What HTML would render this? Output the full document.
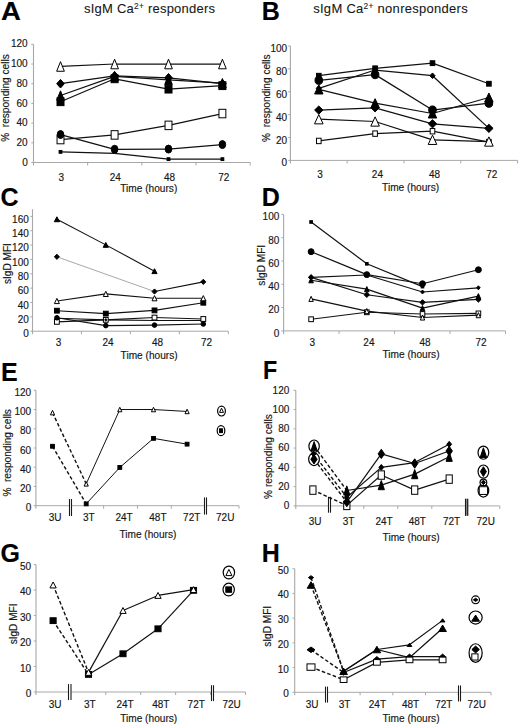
<!DOCTYPE html>
<html><head><meta charset="utf-8"><style>
html,body{margin:0;padding:0;background:#fff;}
svg{display:block;font-family:"Liberation Sans", sans-serif;}
text{stroke:#161616;stroke-width:0.15px;}
</style></head><body>
<svg width="520" height="727" viewBox="0 0 520 727">
<rect width="520" height="727" fill="#fff"/>
<line x1="33.5" y1="44.3" x2="33.5" y2="165.5" stroke="#a8a8a8" stroke-width="1.1"/>
<line x1="31.3" y1="162.5" x2="250.2" y2="162.5" stroke="#a8a8a8" stroke-width="1.0"/>
<text x="27.7" y="165.6" font-size="10" text-anchor="end" fill="#161616">0</text>
<line x1="31.3" y1="142.8" x2="33.5" y2="142.8" stroke="#a8a8a8" stroke-width="1"/>
<text x="27.7" y="145.9" font-size="10" text-anchor="end" fill="#161616">20</text>
<line x1="31.3" y1="123.1" x2="33.5" y2="123.1" stroke="#a8a8a8" stroke-width="1"/>
<text x="27.7" y="126.2" font-size="10" text-anchor="end" fill="#161616">40</text>
<line x1="31.3" y1="103.4" x2="33.5" y2="103.4" stroke="#a8a8a8" stroke-width="1"/>
<text x="27.7" y="106.5" font-size="10" text-anchor="end" fill="#161616">60</text>
<line x1="31.3" y1="83.7" x2="33.5" y2="83.7" stroke="#a8a8a8" stroke-width="1"/>
<text x="27.7" y="86.8" font-size="10" text-anchor="end" fill="#161616">80</text>
<line x1="31.3" y1="64" x2="33.5" y2="64" stroke="#a8a8a8" stroke-width="1"/>
<text x="27.7" y="67.1" font-size="10" text-anchor="end" fill="#161616">100</text>
<line x1="31.3" y1="44.3" x2="33.5" y2="44.3" stroke="#a8a8a8" stroke-width="1"/>
<text x="27.7" y="47.4" font-size="10" text-anchor="end" fill="#161616">120</text>
<line x1="87.67" y1="162.5" x2="87.67" y2="165.5" stroke="#a8a8a8" stroke-width="1"/>
<line x1="141.85" y1="162.5" x2="141.85" y2="165.5" stroke="#a8a8a8" stroke-width="1"/>
<line x1="196.02" y1="162.5" x2="196.02" y2="165.5" stroke="#a8a8a8" stroke-width="1"/>
<line x1="250.2" y1="162.5" x2="250.2" y2="165.5" stroke="#a8a8a8" stroke-width="1"/>
<text x="61.3" y="181" font-size="10" text-anchor="middle" fill="#161616">3</text>
<text x="115.2" y="181" font-size="10" text-anchor="middle" fill="#161616">24</text>
<text x="169.6" y="181" font-size="10" text-anchor="middle" fill="#161616">48</text>
<text x="223.7" y="181" font-size="10" text-anchor="middle" fill="#161616">72</text>
<text x="120.3" y="191.7" font-size="10.15" text-anchor="start" fill="#161616">Time (hours)</text>
<text x="8.9" y="98.05" font-size="10.1" text-anchor="middle" fill="#161616" transform="rotate(-90 8.9 98.05)">%&#160; responding cells</text>
<line x1="60.5" y1="151.86" x2="114.6" y2="153.34" stroke="#111" stroke-width="1.25"/>
<line x1="114.6" y1="153.34" x2="168.5" y2="159.15" stroke="#111" stroke-width="1.25"/>
<line x1="168.5" y1="159.15" x2="222.4" y2="159.15" stroke="#111" stroke-width="1.25"/>
<line x1="60.5" y1="139.55" x2="114.6" y2="134.92" stroke="#111" stroke-width="1.25"/>
<line x1="114.6" y1="134.92" x2="168.5" y2="125.37" stroke="#111" stroke-width="1.25"/>
<line x1="168.5" y1="125.37" x2="222.4" y2="113.55" stroke="#111" stroke-width="1.25"/>
<line x1="60.5" y1="134.53" x2="114.6" y2="149.3" stroke="#111" stroke-width="1.25"/>
<line x1="114.6" y1="149.3" x2="168.5" y2="149.1" stroke="#111" stroke-width="1.25"/>
<line x1="168.5" y1="149.1" x2="222.4" y2="144.57" stroke="#111" stroke-width="1.25"/>
<line x1="60.5" y1="101.73" x2="114.6" y2="78.78" stroke="#111" stroke-width="1.25"/>
<line x1="114.6" y1="78.78" x2="168.5" y2="89.12" stroke="#111" stroke-width="1.25"/>
<line x1="168.5" y1="89.12" x2="222.4" y2="85.67" stroke="#111" stroke-width="1.25"/>
<line x1="60.5" y1="95.52" x2="114.6" y2="76.31" stroke="#111" stroke-width="1.25"/>
<line x1="114.6" y1="76.31" x2="168.5" y2="79.76" stroke="#111" stroke-width="1.25"/>
<line x1="168.5" y1="79.76" x2="222.4" y2="83.21" stroke="#111" stroke-width="1.25"/>
<line x1="60.5" y1="83.7" x2="114.6" y2="75.82" stroke="#111" stroke-width="1.25"/>
<line x1="114.6" y1="75.82" x2="168.5" y2="77.79" stroke="#111" stroke-width="1.25"/>
<line x1="168.5" y1="77.79" x2="222.4" y2="83.7" stroke="#111" stroke-width="1.25"/>
<line x1="60.5" y1="66.46" x2="114.6" y2="64" stroke="#111" stroke-width="1.25"/>
<line x1="114.6" y1="64" x2="168.5" y2="64" stroke="#111" stroke-width="1.25"/>
<line x1="168.5" y1="64" x2="222.4" y2="64" stroke="#111" stroke-width="1.25"/>
<rect x="59.1" y="150.46" width="2.8" height="2.8" fill="#000" stroke="#000" stroke-width="1.0"/>
<rect x="167.1" y="157.75" width="2.8" height="2.8" fill="#000" stroke="#000" stroke-width="1.0"/>
<rect x="221" y="157.75" width="2.8" height="2.8" fill="#000" stroke="#000" stroke-width="1.0"/>
<rect x="57.05" y="135.3" width="6.9" height="8.5" fill="#fff" stroke="#000" stroke-width="1.0"/>
<rect x="111.15" y="130.67" width="6.9" height="8.5" fill="#fff" stroke="#000" stroke-width="1.0"/>
<rect x="165.05" y="121.12" width="6.9" height="8.5" fill="#fff" stroke="#000" stroke-width="1.0"/>
<rect x="218.95" y="109.3" width="6.9" height="8.5" fill="#fff" stroke="#000" stroke-width="1.0"/>
<ellipse cx="60.5" cy="134.53" rx="3.3" ry="4" fill="#000" stroke="#000" stroke-width="1.0"/>
<ellipse cx="114.6" cy="149.3" rx="3.3" ry="4" fill="#000" stroke="#000" stroke-width="1.0"/>
<ellipse cx="168.5" cy="149.1" rx="3.3" ry="4" fill="#000" stroke="#000" stroke-width="1.0"/>
<ellipse cx="222.4" cy="144.57" rx="3.3" ry="4" fill="#000" stroke="#000" stroke-width="1.0"/>
<rect x="57" y="97.83" width="7" height="7.8" fill="#000" stroke="#000" stroke-width="1.0"/>
<rect x="111.1" y="74.88" width="7" height="7.8" fill="#000" stroke="#000" stroke-width="1.0"/>
<rect x="165" y="85.22" width="7" height="7.8" fill="#000" stroke="#000" stroke-width="1.0"/>
<rect x="218.9" y="81.77" width="7" height="7.8" fill="#000" stroke="#000" stroke-width="1.0"/>
<polygon points="60.5,90.82 64.3,100.22 56.7,100.22" fill="#000" stroke="#000" stroke-width="1.0"/>
<polygon points="114.6,71.61 118.4,81.01 110.8,81.01" fill="#000" stroke="#000" stroke-width="1.0"/>
<polygon points="168.5,75.06 172.3,84.46 164.7,84.46" fill="#000" stroke="#000" stroke-width="1.0"/>
<polygon points="222.4,78.51 226.2,87.91 218.6,87.91" fill="#000" stroke="#000" stroke-width="1.0"/>
<polygon points="60.5,79.4 64.3,83.7 60.5,88 56.7,83.7" fill="#000" stroke="#000" stroke-width="1.0"/>
<polygon points="114.6,71.52 118.4,75.82 114.6,80.12 110.8,75.82" fill="#000" stroke="#000" stroke-width="1.0"/>
<polygon points="168.5,73.49 172.3,77.79 168.5,82.09 164.7,77.79" fill="#000" stroke="#000" stroke-width="1.0"/>
<polygon points="222.4,79.4 226.2,83.7 222.4,88 218.6,83.7" fill="#000" stroke="#000" stroke-width="1.0"/>
<polygon points="60.5,61.66 64.35,71.26 56.65,71.26" fill="#fff" stroke="#000" stroke-width="1.0"/>
<polygon points="114.6,59.2 118.45,68.8 110.75,68.8" fill="#fff" stroke="#000" stroke-width="1.0"/>
<polygon points="168.5,59.2 172.35,68.8 164.65,68.8" fill="#fff" stroke="#000" stroke-width="1.0"/>
<polygon points="222.4,59.2 226.25,68.8 218.55,68.8" fill="#fff" stroke="#000" stroke-width="1.0"/>
<line x1="290.4" y1="46" x2="290.4" y2="163.4" stroke="#a8a8a8" stroke-width="1.1"/>
<line x1="288.2" y1="160.4" x2="517.6" y2="160.4" stroke="#a8a8a8" stroke-width="1.0"/>
<text x="287.1" y="166.4" font-size="10" text-anchor="end" fill="#161616">0</text>
<line x1="288.2" y1="137.52" x2="290.4" y2="137.52" stroke="#a8a8a8" stroke-width="1"/>
<text x="287.1" y="143.52" font-size="10" text-anchor="end" fill="#161616">20</text>
<line x1="288.2" y1="114.64" x2="290.4" y2="114.64" stroke="#a8a8a8" stroke-width="1"/>
<text x="287.1" y="120.64" font-size="10" text-anchor="end" fill="#161616">40</text>
<line x1="288.2" y1="91.76" x2="290.4" y2="91.76" stroke="#a8a8a8" stroke-width="1"/>
<text x="287.1" y="97.76" font-size="10" text-anchor="end" fill="#161616">60</text>
<line x1="288.2" y1="68.88" x2="290.4" y2="68.88" stroke="#a8a8a8" stroke-width="1"/>
<text x="287.1" y="74.88" font-size="10" text-anchor="end" fill="#161616">80</text>
<line x1="288.2" y1="46" x2="290.4" y2="46" stroke="#a8a8a8" stroke-width="1"/>
<text x="287.1" y="52" font-size="10" text-anchor="end" fill="#161616">100</text>
<line x1="347.12" y1="160.4" x2="347.12" y2="163.4" stroke="#a8a8a8" stroke-width="1"/>
<line x1="403.95" y1="160.4" x2="403.95" y2="163.4" stroke="#a8a8a8" stroke-width="1"/>
<line x1="460.78" y1="160.4" x2="460.78" y2="163.4" stroke="#a8a8a8" stroke-width="1"/>
<line x1="517.6" y1="160.4" x2="517.6" y2="163.4" stroke="#a8a8a8" stroke-width="1"/>
<text x="320.1" y="177.6" font-size="10" text-anchor="middle" fill="#161616">3</text>
<text x="377.4" y="177.6" font-size="10" text-anchor="middle" fill="#161616">24</text>
<text x="434.6" y="177.6" font-size="10" text-anchor="middle" fill="#161616">48</text>
<text x="491.7" y="177.6" font-size="10" text-anchor="middle" fill="#161616">72</text>
<text x="382.1" y="191" font-size="10.15" text-anchor="start" fill="#161616">Time (hours)</text>
<text x="270.2" y="98.15" font-size="10.1" text-anchor="middle" fill="#161616" transform="rotate(-90 270.2 98.15)">%&#160; responding cells</text>
<line x1="318.8" y1="140.95" x2="375.1" y2="133.63" stroke="#111" stroke-width="1.25"/>
<line x1="375.1" y1="133.63" x2="432.5" y2="131.23" stroke="#111" stroke-width="1.25"/>
<line x1="432.5" y1="131.23" x2="488.9" y2="142.1" stroke="#111" stroke-width="1.25"/>
<line x1="318.8" y1="119.22" x2="375.1" y2="121.5" stroke="#111" stroke-width="1.25"/>
<line x1="375.1" y1="121.5" x2="432.5" y2="139.81" stroke="#111" stroke-width="1.25"/>
<line x1="432.5" y1="139.81" x2="488.9" y2="141.52" stroke="#111" stroke-width="1.25"/>
<line x1="318.8" y1="110.06" x2="375.1" y2="107.78" stroke="#111" stroke-width="1.25"/>
<line x1="375.1" y1="107.78" x2="432.5" y2="123.79" stroke="#111" stroke-width="1.25"/>
<line x1="432.5" y1="123.79" x2="488.9" y2="128.37" stroke="#111" stroke-width="1.25"/>
<line x1="318.8" y1="89.47" x2="375.1" y2="103.2" stroke="#111" stroke-width="1.25"/>
<line x1="375.1" y1="103.2" x2="432.5" y2="113.5" stroke="#111" stroke-width="1.25"/>
<line x1="432.5" y1="113.5" x2="488.9" y2="97.48" stroke="#111" stroke-width="1.25"/>
<line x1="318.8" y1="80.32" x2="375.1" y2="74.6" stroke="#111" stroke-width="1.25"/>
<line x1="375.1" y1="74.6" x2="432.5" y2="110.06" stroke="#111" stroke-width="1.25"/>
<line x1="432.5" y1="110.06" x2="488.9" y2="103.2" stroke="#111" stroke-width="1.25"/>
<line x1="318.8" y1="88.33" x2="375.1" y2="70.02" stroke="#111" stroke-width="1.25"/>
<line x1="375.1" y1="70.02" x2="432.5" y2="75.74" stroke="#111" stroke-width="1.25"/>
<line x1="432.5" y1="75.74" x2="488.9" y2="128.37" stroke="#111" stroke-width="1.25"/>
<line x1="318.8" y1="75.74" x2="375.1" y2="68.31" stroke="#111" stroke-width="1.25"/>
<line x1="375.1" y1="68.31" x2="432.5" y2="63.16" stroke="#111" stroke-width="1.25"/>
<line x1="432.5" y1="63.16" x2="488.9" y2="83.75" stroke="#111" stroke-width="1.25"/>
<rect x="316.5" y="138.25" width="4.6" height="5.4" fill="#fff" stroke="#000" stroke-width="1.0"/>
<rect x="372.8" y="130.93" width="4.6" height="5.4" fill="#fff" stroke="#000" stroke-width="1.0"/>
<rect x="430.2" y="128.53" width="4.6" height="5.4" fill="#fff" stroke="#000" stroke-width="1.0"/>
<rect x="486.6" y="139.4" width="4.6" height="5.4" fill="#fff" stroke="#000" stroke-width="1.0"/>
<polygon points="318.8,114.57 323.1,123.87 314.5,123.87" fill="#fff" stroke="#000" stroke-width="1.0"/>
<polygon points="375.1,116.85 379.4,126.15 370.8,126.15" fill="#fff" stroke="#000" stroke-width="1.0"/>
<polygon points="432.5,135.16 436.8,144.46 428.2,144.46" fill="#fff" stroke="#000" stroke-width="1.0"/>
<polygon points="488.9,136.87 493.2,146.17 484.6,146.17" fill="#fff" stroke="#000" stroke-width="1.0"/>
<polygon points="318.8,105.96 323,110.06 318.8,114.16 314.6,110.06" fill="#000" stroke="#000" stroke-width="1.0"/>
<polygon points="375.1,103.68 379.3,107.78 375.1,111.88 370.9,107.78" fill="#000" stroke="#000" stroke-width="1.0"/>
<polygon points="432.5,119.69 436.7,123.79 432.5,127.89 428.3,123.79" fill="#000" stroke="#000" stroke-width="1.0"/>
<polygon points="488.9,124.27 493.1,128.37 488.9,132.47 484.7,128.37" fill="#000" stroke="#000" stroke-width="1.0"/>
<polygon points="318.8,84.97 323,93.97 314.6,93.97" fill="#000" stroke="#000" stroke-width="1.0"/>
<polygon points="375.1,98.7 379.3,107.7 370.9,107.7" fill="#000" stroke="#000" stroke-width="1.0"/>
<polygon points="432.5,109 436.7,118 428.3,118" fill="#000" stroke="#000" stroke-width="1.0"/>
<polygon points="488.9,92.98 493.1,101.98 484.7,101.98" fill="#000" stroke="#000" stroke-width="1.0"/>
<ellipse cx="318.8" cy="80.32" rx="3.8" ry="4.1" fill="#000" stroke="#000" stroke-width="1.0"/>
<ellipse cx="375.1" cy="74.6" rx="3.8" ry="4.1" fill="#000" stroke="#000" stroke-width="1.0"/>
<ellipse cx="432.5" cy="110.06" rx="3.8" ry="4.1" fill="#000" stroke="#000" stroke-width="1.0"/>
<ellipse cx="488.9" cy="103.2" rx="3.8" ry="4.1" fill="#000" stroke="#000" stroke-width="1.0"/>
<polygon points="318.8,85.53 321.4,88.33 318.8,91.13 316.2,88.33" fill="#000" stroke="#000" stroke-width="1.0"/>
<polygon points="375.1,67.22 377.7,70.02 375.1,72.82 372.5,70.02" fill="#000" stroke="#000" stroke-width="1.0"/>
<polygon points="432.5,72.94 435.1,75.74 432.5,78.54 429.9,75.74" fill="#000" stroke="#000" stroke-width="1.0"/>
<polygon points="488.9,125.57 491.5,128.37 488.9,131.17 486.3,128.37" fill="#000" stroke="#000" stroke-width="1.0"/>
<rect x="316.5" y="73.34" width="4.6" height="4.8" fill="#000" stroke="#000" stroke-width="1.0"/>
<rect x="372.8" y="65.91" width="4.6" height="4.8" fill="#000" stroke="#000" stroke-width="1.0"/>
<rect x="430.2" y="60.76" width="4.6" height="4.8" fill="#000" stroke="#000" stroke-width="1.0"/>
<rect x="486.6" y="81.35" width="4.6" height="4.8" fill="#000" stroke="#000" stroke-width="1.0"/>
<line x1="32.5" y1="209.2" x2="32.5" y2="334.2" stroke="#a8a8a8" stroke-width="1.1"/>
<line x1="30.3" y1="331.2" x2="228.3" y2="331.2" stroke="#a8a8a8" stroke-width="1.0"/>
<text x="28.8" y="337.4" font-size="10" text-anchor="end" fill="#161616">0</text>
<line x1="30.3" y1="316.85" x2="32.5" y2="316.85" stroke="#a8a8a8" stroke-width="1"/>
<text x="28.8" y="323.05" font-size="10" text-anchor="end" fill="#161616">20</text>
<line x1="30.3" y1="302.5" x2="32.5" y2="302.5" stroke="#a8a8a8" stroke-width="1"/>
<text x="28.8" y="308.7" font-size="10" text-anchor="end" fill="#161616">40</text>
<line x1="30.3" y1="288.15" x2="32.5" y2="288.15" stroke="#a8a8a8" stroke-width="1"/>
<text x="28.8" y="294.35" font-size="10" text-anchor="end" fill="#161616">60</text>
<line x1="30.3" y1="273.8" x2="32.5" y2="273.8" stroke="#a8a8a8" stroke-width="1"/>
<text x="28.8" y="280" font-size="10" text-anchor="end" fill="#161616">80</text>
<line x1="30.3" y1="259.45" x2="32.5" y2="259.45" stroke="#a8a8a8" stroke-width="1"/>
<text x="28.8" y="265.65" font-size="10" text-anchor="end" fill="#161616">100</text>
<line x1="30.3" y1="245.1" x2="32.5" y2="245.1" stroke="#a8a8a8" stroke-width="1"/>
<text x="28.8" y="251.3" font-size="10" text-anchor="end" fill="#161616">120</text>
<line x1="30.3" y1="230.75" x2="32.5" y2="230.75" stroke="#a8a8a8" stroke-width="1"/>
<text x="28.8" y="236.95" font-size="10" text-anchor="end" fill="#161616">140</text>
<line x1="30.3" y1="216.4" x2="32.5" y2="216.4" stroke="#a8a8a8" stroke-width="1"/>
<text x="28.8" y="222.6" font-size="10" text-anchor="end" fill="#161616">160</text>
<line x1="81.45" y1="331.2" x2="81.45" y2="334.2" stroke="#a8a8a8" stroke-width="1"/>
<line x1="130.4" y1="331.2" x2="130.4" y2="334.2" stroke="#a8a8a8" stroke-width="1"/>
<line x1="179.35" y1="331.2" x2="179.35" y2="334.2" stroke="#a8a8a8" stroke-width="1"/>
<line x1="228.3" y1="331.2" x2="228.3" y2="334.2" stroke="#a8a8a8" stroke-width="1"/>
<text x="58.5" y="346.4" font-size="10" text-anchor="middle" fill="#161616">3</text>
<text x="108.1" y="346.4" font-size="10" text-anchor="middle" fill="#161616">24</text>
<text x="157.5" y="346.4" font-size="10" text-anchor="middle" fill="#161616">48</text>
<text x="206.5" y="346.4" font-size="10" text-anchor="middle" fill="#161616">72</text>
<text x="120.6" y="358.6" font-size="10.15" text-anchor="start" fill="#161616">Time (hours)</text>
<text x="11.1" y="263.6" font-size="10.1" text-anchor="middle" fill="#161616" transform="rotate(-90 11.1 263.6)">sIgD MFI</text>
<line x1="56.9" y1="321.87" x2="105.8" y2="319.86" stroke="#111" stroke-width="1.1"/>
<line x1="105.8" y1="319.86" x2="154.5" y2="317.57" stroke="#111" stroke-width="1.1"/>
<line x1="154.5" y1="317.57" x2="203.3" y2="319" stroke="#111" stroke-width="1.1"/>
<line x1="56.9" y1="318.28" x2="105.8" y2="319.86" stroke="#111" stroke-width="1.1"/>
<line x1="105.8" y1="319.86" x2="154.5" y2="320.44" stroke="#111" stroke-width="1.1"/>
<line x1="154.5" y1="320.44" x2="203.3" y2="320.44" stroke="#111" stroke-width="1.1"/>
<line x1="56.9" y1="317.78" x2="105.8" y2="325.6" stroke="#111" stroke-width="1.1"/>
<line x1="105.8" y1="325.6" x2="154.5" y2="325.1" stroke="#111" stroke-width="1.1"/>
<line x1="154.5" y1="325.1" x2="203.3" y2="324.02" stroke="#111" stroke-width="1.1"/>
<line x1="56.9" y1="310.68" x2="105.8" y2="313.62" stroke="#111" stroke-width="1.1"/>
<line x1="105.8" y1="313.62" x2="154.5" y2="310.39" stroke="#111" stroke-width="1.1"/>
<line x1="154.5" y1="310.39" x2="203.3" y2="302.72" stroke="#111" stroke-width="1.1"/>
<line x1="56.9" y1="300.99" x2="105.8" y2="293.89" stroke="#111" stroke-width="1.1"/>
<line x1="105.8" y1="293.89" x2="154.5" y2="298.19" stroke="#111" stroke-width="1.1"/>
<line x1="154.5" y1="298.19" x2="203.3" y2="298.19" stroke="#111" stroke-width="1.1"/>
<line x1="56.9" y1="256.8" x2="154.5" y2="291.52" stroke="#a8a8a8" stroke-width="1.0"/>
<line x1="154.5" y1="291.52" x2="203.3" y2="281.84" stroke="#111" stroke-width="1.1"/>
<line x1="56.9" y1="219.27" x2="105.8" y2="244.88" stroke="#111" stroke-width="1.1"/>
<line x1="105.8" y1="244.88" x2="154.5" y2="271.15" stroke="#111" stroke-width="1.1"/>
<rect x="54.5" y="319.47" width="4.8" height="4.8" fill="#fff" stroke="#000" stroke-width="1.0"/>
<rect x="103.4" y="317.46" width="4.8" height="4.8" fill="#fff" stroke="#000" stroke-width="1.0"/>
<rect x="152.1" y="315.17" width="4.8" height="4.8" fill="#fff" stroke="#000" stroke-width="1.0"/>
<rect x="200.9" y="316.6" width="4.8" height="4.8" fill="#fff" stroke="#000" stroke-width="1.0"/>
<ellipse cx="105.8" cy="319.86" rx="1" ry="1" fill="#000" stroke="#000" stroke-width="1.0"/>
<ellipse cx="56.9" cy="317.78" rx="2.3" ry="2.3" fill="#000" stroke="#000" stroke-width="1.0"/>
<ellipse cx="105.8" cy="325.6" rx="2.3" ry="2.3" fill="#000" stroke="#000" stroke-width="1.0"/>
<ellipse cx="154.5" cy="325.1" rx="2.3" ry="2.3" fill="#000" stroke="#000" stroke-width="1.0"/>
<ellipse cx="203.3" cy="324.02" rx="2.3" ry="2.3" fill="#000" stroke="#000" stroke-width="1.0"/>
<rect x="54.5" y="308.28" width="4.8" height="4.8" fill="#000" stroke="#000" stroke-width="1.0"/>
<rect x="103.4" y="311.22" width="4.8" height="4.8" fill="#000" stroke="#000" stroke-width="1.0"/>
<rect x="152.1" y="307.99" width="4.8" height="4.8" fill="#000" stroke="#000" stroke-width="1.0"/>
<rect x="200.9" y="300.32" width="4.8" height="4.8" fill="#000" stroke="#000" stroke-width="1.0"/>
<polygon points="56.9,298.39 59.4,303.59 54.4,303.59" fill="#fff" stroke="#000" stroke-width="1.0"/>
<polygon points="105.8,291.29 108.3,296.49 103.3,296.49" fill="#fff" stroke="#000" stroke-width="1.0"/>
<polygon points="154.5,295.59 157,300.8 152,300.8" fill="#fff" stroke="#000" stroke-width="1.0"/>
<polygon points="203.3,295.59 205.8,300.8 200.8,300.8" fill="#fff" stroke="#000" stroke-width="1.0"/>
<polygon points="56.9,254.2 59.4,256.8 56.9,259.4 54.4,256.8" fill="#000" stroke="#000" stroke-width="1.0"/>
<polygon points="154.5,288.92 157,291.52 154.5,294.12 152,291.52" fill="#000" stroke="#000" stroke-width="1.0"/>
<polygon points="203.3,279.24 205.8,281.84 203.3,284.44 200.8,281.84" fill="#000" stroke="#000" stroke-width="1.0"/>
<polygon points="56.9,216.82 59.5,221.72 54.3,221.72" fill="#000" stroke="#000" stroke-width="1.0"/>
<polygon points="105.8,242.43 108.4,247.33 103.2,247.33" fill="#000" stroke="#000" stroke-width="1.0"/>
<polygon points="154.5,268.7 157.1,273.6 151.9,273.6" fill="#000" stroke="#000" stroke-width="1.0"/>
<line x1="283.6" y1="214.4" x2="283.6" y2="333.9" stroke="#a8a8a8" stroke-width="1.1"/>
<line x1="281.4" y1="330.9" x2="505.5" y2="330.9" stroke="#a8a8a8" stroke-width="1.0"/>
<text x="279.3" y="336.7" font-size="10" text-anchor="end" fill="#161616">0</text>
<line x1="281.4" y1="307.6" x2="283.6" y2="307.6" stroke="#a8a8a8" stroke-width="1"/>
<text x="279.3" y="313.4" font-size="10" text-anchor="end" fill="#161616">20</text>
<line x1="281.4" y1="284.3" x2="283.6" y2="284.3" stroke="#a8a8a8" stroke-width="1"/>
<text x="279.3" y="290.1" font-size="10" text-anchor="end" fill="#161616">40</text>
<line x1="281.4" y1="261" x2="283.6" y2="261" stroke="#a8a8a8" stroke-width="1"/>
<text x="279.3" y="266.8" font-size="10" text-anchor="end" fill="#161616">60</text>
<line x1="281.4" y1="237.7" x2="283.6" y2="237.7" stroke="#a8a8a8" stroke-width="1"/>
<text x="279.3" y="243.5" font-size="10" text-anchor="end" fill="#161616">80</text>
<line x1="281.4" y1="214.4" x2="283.6" y2="214.4" stroke="#a8a8a8" stroke-width="1"/>
<text x="279.3" y="220.2" font-size="10" text-anchor="end" fill="#161616">100</text>
<line x1="339.08" y1="330.9" x2="339.08" y2="333.9" stroke="#a8a8a8" stroke-width="1"/>
<line x1="394.55" y1="330.9" x2="394.55" y2="333.9" stroke="#a8a8a8" stroke-width="1"/>
<line x1="450.02" y1="330.9" x2="450.02" y2="333.9" stroke="#a8a8a8" stroke-width="1"/>
<line x1="505.5" y1="330.9" x2="505.5" y2="333.9" stroke="#a8a8a8" stroke-width="1"/>
<text x="312.3" y="346" font-size="10" text-anchor="middle" fill="#161616">3</text>
<text x="368.9" y="346" font-size="10" text-anchor="middle" fill="#161616">24</text>
<text x="425" y="346" font-size="10" text-anchor="middle" fill="#161616">48</text>
<text x="481" y="346" font-size="10" text-anchor="middle" fill="#161616">72</text>
<text x="382.5" y="358.4" font-size="10.15" text-anchor="start" fill="#161616">Time (hours)</text>
<text x="265" y="265.3" font-size="10.1" text-anchor="middle" fill="#161616" transform="rotate(-90 265 265.3)">sIgD MFI</text>
<line x1="311.1" y1="319.25" x2="366.8" y2="312.26" stroke="#111" stroke-width="1.2"/>
<line x1="366.8" y1="312.26" x2="422.5" y2="314.01" stroke="#111" stroke-width="1.2"/>
<line x1="422.5" y1="314.01" x2="478.4" y2="313.42" stroke="#111" stroke-width="1.2"/>
<line x1="311.1" y1="277.31" x2="366.8" y2="274.98" stroke="#111" stroke-width="1.2"/>
<line x1="366.8" y1="274.98" x2="422.5" y2="291.99" stroke="#111" stroke-width="1.2"/>
<line x1="422.5" y1="291.99" x2="478.4" y2="287.79" stroke="#111" stroke-width="1.2"/>
<line x1="311.1" y1="277.31" x2="366.8" y2="294.78" stroke="#111" stroke-width="1.2"/>
<line x1="366.8" y1="294.78" x2="422.5" y2="302.36" stroke="#111" stroke-width="1.2"/>
<line x1="422.5" y1="302.36" x2="478.4" y2="299.44" stroke="#111" stroke-width="1.2"/>
<line x1="311.1" y1="280.22" x2="366.8" y2="289.19" stroke="#111" stroke-width="1.2"/>
<line x1="366.8" y1="289.19" x2="422.5" y2="308.18" stroke="#111" stroke-width="1.2"/>
<line x1="422.5" y1="308.18" x2="478.4" y2="296.18" stroke="#111" stroke-width="1.2"/>
<line x1="311.1" y1="298.86" x2="366.8" y2="311.09" stroke="#111" stroke-width="1.2"/>
<line x1="366.8" y1="311.09" x2="422.5" y2="317.5" stroke="#111" stroke-width="1.2"/>
<line x1="422.5" y1="317.5" x2="478.4" y2="315.17" stroke="#111" stroke-width="1.2"/>
<line x1="311.1" y1="221.97" x2="366.8" y2="263.8" stroke="#111" stroke-width="1.2"/>
<line x1="366.8" y1="263.8" x2="422.5" y2="286.63" stroke="#111" stroke-width="1.2"/>
<line x1="311.1" y1="251.68" x2="366.8" y2="274.63" stroke="#111" stroke-width="1.2"/>
<line x1="366.8" y1="274.63" x2="422.5" y2="283.72" stroke="#111" stroke-width="1.2"/>
<line x1="422.5" y1="283.72" x2="478.4" y2="269.74" stroke="#111" stroke-width="1.2"/>
<rect x="308.8" y="316.85" width="4.6" height="4.8" fill="#fff" stroke="#000" stroke-width="1.0"/>
<rect x="364.5" y="309.86" width="4.6" height="4.8" fill="#fff" stroke="#000" stroke-width="1.0"/>
<rect x="420.2" y="311.61" width="4.6" height="4.8" fill="#fff" stroke="#000" stroke-width="1.0"/>
<rect x="476.1" y="311.02" width="4.6" height="4.8" fill="#fff" stroke="#000" stroke-width="1.0"/>
<polygon points="311.1,275.31 312.9,277.31 311.1,279.31 309.3,277.31" fill="#000" stroke="#000" stroke-width="1.0"/>
<polygon points="366.8,272.98 368.6,274.98 366.8,276.98 365,274.98" fill="#000" stroke="#000" stroke-width="1.0"/>
<polygon points="422.5,289.99 424.3,291.99 422.5,293.99 420.7,291.99" fill="#000" stroke="#000" stroke-width="1.0"/>
<polygon points="478.4,285.79 480.2,287.79 478.4,289.79 476.6,287.79" fill="#000" stroke="#000" stroke-width="1.0"/>
<polygon points="311.1,274.61 313.8,277.31 311.1,280.01 308.4,277.31" fill="#000" stroke="#000" stroke-width="1.0"/>
<polygon points="366.8,292.08 369.5,294.78 366.8,297.48 364.1,294.78" fill="#000" stroke="#000" stroke-width="1.0"/>
<polygon points="422.5,299.66 425.2,302.36 422.5,305.06 419.8,302.36" fill="#000" stroke="#000" stroke-width="1.0"/>
<polygon points="478.4,296.75 481.1,299.44 478.4,302.14 475.7,299.44" fill="#000" stroke="#000" stroke-width="1.0"/>
<polygon points="311.1,277.62 313.4,282.82 308.8,282.82" fill="#000" stroke="#000" stroke-width="1.0"/>
<polygon points="366.8,286.59 369.1,291.79 364.5,291.79" fill="#000" stroke="#000" stroke-width="1.0"/>
<polygon points="422.5,305.58 424.8,310.78 420.2,310.78" fill="#000" stroke="#000" stroke-width="1.0"/>
<polygon points="478.4,293.58 480.7,298.78 476.1,298.78" fill="#000" stroke="#000" stroke-width="1.0"/>
<polygon points="311.1,296.31 313.3,301.41 308.9,301.41" fill="#fff" stroke="#000" stroke-width="1.0"/>
<polygon points="366.8,308.54 369,313.64 364.6,313.64" fill="#fff" stroke="#000" stroke-width="1.0"/>
<polygon points="422.5,314.95 424.7,320.05 420.3,320.05" fill="#fff" stroke="#000" stroke-width="1.0"/>
<polygon points="478.4,312.62 480.6,317.72 476.2,317.72" fill="#fff" stroke="#000" stroke-width="1.0"/>
<rect x="309.8" y="220.67" width="2.6" height="2.6" fill="#000" stroke="#000" stroke-width="1.0"/>
<rect x="365.5" y="262.5" width="2.6" height="2.6" fill="#000" stroke="#000" stroke-width="1.0"/>
<rect x="421.2" y="285.33" width="2.6" height="2.6" fill="#000" stroke="#000" stroke-width="1.0"/>
<ellipse cx="311.1" cy="251.68" rx="2.95" ry="2.95" fill="#000" stroke="#000" stroke-width="1.0"/>
<ellipse cx="366.8" cy="274.63" rx="2.95" ry="2.95" fill="#000" stroke="#000" stroke-width="1.0"/>
<ellipse cx="422.5" cy="283.72" rx="2.95" ry="2.95" fill="#000" stroke="#000" stroke-width="1.0"/>
<ellipse cx="478.4" cy="269.74" rx="2.95" ry="2.95" fill="#000" stroke="#000" stroke-width="1.0"/>
<line x1="35.9" y1="390.3" x2="35.9" y2="508.7" stroke="#a8a8a8" stroke-width="1.1"/>
<line x1="33.7" y1="505.7" x2="239" y2="505.7" stroke="#a8a8a8" stroke-width="1.0"/>
<text x="31.2" y="511.3" font-size="10" text-anchor="end" fill="#161616">0</text>
<line x1="33.7" y1="486.47" x2="35.9" y2="486.47" stroke="#a8a8a8" stroke-width="1"/>
<text x="31.2" y="492.07" font-size="10" text-anchor="end" fill="#161616">20</text>
<line x1="33.7" y1="467.23" x2="35.9" y2="467.23" stroke="#a8a8a8" stroke-width="1"/>
<text x="31.2" y="472.83" font-size="10" text-anchor="end" fill="#161616">40</text>
<line x1="33.7" y1="448" x2="35.9" y2="448" stroke="#a8a8a8" stroke-width="1"/>
<text x="31.2" y="453.6" font-size="10" text-anchor="end" fill="#161616">60</text>
<line x1="33.7" y1="428.77" x2="35.9" y2="428.77" stroke="#a8a8a8" stroke-width="1"/>
<text x="31.2" y="434.37" font-size="10" text-anchor="end" fill="#161616">80</text>
<line x1="33.7" y1="409.53" x2="35.9" y2="409.53" stroke="#a8a8a8" stroke-width="1"/>
<text x="31.2" y="415.13" font-size="10" text-anchor="end" fill="#161616">100</text>
<line x1="33.7" y1="390.3" x2="35.9" y2="390.3" stroke="#a8a8a8" stroke-width="1"/>
<text x="31.2" y="395.9" font-size="10" text-anchor="end" fill="#161616">120</text>
<line x1="69.75" y1="505.7" x2="69.75" y2="508.7" stroke="#a8a8a8" stroke-width="1"/>
<line x1="103.6" y1="505.7" x2="103.6" y2="508.7" stroke="#a8a8a8" stroke-width="1"/>
<line x1="137.45" y1="505.7" x2="137.45" y2="508.7" stroke="#a8a8a8" stroke-width="1"/>
<line x1="171.3" y1="505.7" x2="171.3" y2="508.7" stroke="#a8a8a8" stroke-width="1"/>
<line x1="205.15" y1="505.7" x2="205.15" y2="508.7" stroke="#a8a8a8" stroke-width="1"/>
<line x1="239" y1="505.7" x2="239" y2="508.7" stroke="#a8a8a8" stroke-width="1"/>
<text x="55.1" y="521.4" font-size="10" text-anchor="middle" fill="#161616">3U</text>
<text x="88.9" y="521.4" font-size="10" text-anchor="middle" fill="#161616">3T</text>
<text x="124.1" y="521.4" font-size="10" text-anchor="middle" fill="#161616">24T</text>
<text x="157.9" y="521.4" font-size="10" text-anchor="middle" fill="#161616">48T</text>
<text x="191.7" y="521.4" font-size="10" text-anchor="middle" fill="#161616">72T</text>
<text x="225.2" y="521.4" font-size="10" text-anchor="middle" fill="#161616">72U</text>
<text x="119.4" y="537.6" font-size="10.15" text-anchor="start" fill="#161616">Time (hours)</text>
<text x="11.1" y="452.85" font-size="10.1" text-anchor="middle" fill="#161616" transform="rotate(-90 11.1 452.85)">%&#160; responding cells</text>
<rect x="69" y="499" width="3" height="17" fill="#fff"/>
<line x1="69.5" y1="499" x2="69.5" y2="516" stroke="#1a1a1a" stroke-width="1.1"/>
<line x1="71.5" y1="499" x2="71.5" y2="516" stroke="#1a1a1a" stroke-width="1.1"/>
<rect x="204" y="497.4" width="3" height="17.2" fill="#fff"/>
<line x1="204.5" y1="497.4" x2="204.5" y2="514.6" stroke="#1a1a1a" stroke-width="1.1"/>
<line x1="206.5" y1="497.4" x2="206.5" y2="514.6" stroke="#1a1a1a" stroke-width="1.1"/>
<line x1="52.5" y1="446.27" x2="86.2" y2="503.87" stroke="#111" stroke-width="1.4" stroke-dasharray="3.6,2.2"/>
<line x1="86.2" y1="503.87" x2="119.8" y2="467.43" stroke="#111" stroke-width="1.0"/>
<line x1="119.8" y1="467.43" x2="153.5" y2="438.38" stroke="#111" stroke-width="1.0"/>
<line x1="153.5" y1="438.38" x2="187.1" y2="444.15" stroke="#111" stroke-width="1.0"/>
<line x1="52.5" y1="412.61" x2="86.2" y2="483.87" stroke="#111" stroke-width="1.4" stroke-dasharray="3.6,2.2"/>
<line x1="86.2" y1="483.87" x2="119.8" y2="409.53" stroke="#111" stroke-width="1.0"/>
<line x1="119.8" y1="409.53" x2="153.5" y2="409.53" stroke="#111" stroke-width="1.0"/>
<line x1="153.5" y1="409.53" x2="187.1" y2="411.46" stroke="#111" stroke-width="1.0"/>
<ellipse cx="221" cy="430.69" rx="3.8" ry="5" fill="#fff" stroke="#000" stroke-width="1.2"/>
<ellipse cx="221.5" cy="411.1" rx="3.9" ry="4.9" fill="#fff" stroke="#000" stroke-width="1.2"/>
<rect x="50.6" y="444.37" width="3.8" height="3.8" fill="#000" stroke="#000" stroke-width="1.0"/>
<rect x="84.3" y="501.97" width="3.8" height="3.8" fill="#000" stroke="#000" stroke-width="1.0"/>
<rect x="117.9" y="465.53" width="3.8" height="3.8" fill="#000" stroke="#000" stroke-width="1.0"/>
<rect x="151.6" y="436.48" width="3.8" height="3.8" fill="#000" stroke="#000" stroke-width="1.0"/>
<rect x="185.2" y="442.25" width="3.8" height="3.8" fill="#000" stroke="#000" stroke-width="1.0"/>
<rect x="219.55" y="428.79" width="2.9" height="3.8" fill="#000" stroke="#000" stroke-width="1.0"/>
<polygon points="52.5,410.36 54.6,414.86 50.4,414.86" fill="#fff" stroke="#000" stroke-width="1.0"/>
<polygon points="86.2,481.62 88.3,486.12 84.1,486.12" fill="#fff" stroke="#000" stroke-width="1.0"/>
<polygon points="119.8,407.28 121.9,411.78 117.7,411.78" fill="#fff" stroke="#000" stroke-width="1.0"/>
<polygon points="153.5,407.28 155.6,411.78 151.4,411.78" fill="#fff" stroke="#000" stroke-width="1.0"/>
<polygon points="187.1,409.21 189.2,413.71 185,413.71" fill="#fff" stroke="#000" stroke-width="1.0"/>
<polygon points="221.5,408.2 223.5,412.4 219.5,412.4" fill="#fff" stroke="#000" stroke-width="1.0"/>
<line x1="295.8" y1="390.3" x2="295.8" y2="508.9" stroke="#a8a8a8" stroke-width="1.1"/>
<line x1="293.6" y1="505.9" x2="499.8" y2="505.9" stroke="#a8a8a8" stroke-width="1.0"/>
<text x="289.3" y="509.2" font-size="10" text-anchor="end" fill="#161616">0</text>
<line x1="293.6" y1="486.63" x2="295.8" y2="486.63" stroke="#a8a8a8" stroke-width="1"/>
<text x="289.3" y="489.93" font-size="10" text-anchor="end" fill="#161616">20</text>
<line x1="293.6" y1="467.37" x2="295.8" y2="467.37" stroke="#a8a8a8" stroke-width="1"/>
<text x="289.3" y="470.67" font-size="10" text-anchor="end" fill="#161616">40</text>
<line x1="293.6" y1="448.1" x2="295.8" y2="448.1" stroke="#a8a8a8" stroke-width="1"/>
<text x="289.3" y="451.4" font-size="10" text-anchor="end" fill="#161616">60</text>
<line x1="293.6" y1="428.83" x2="295.8" y2="428.83" stroke="#a8a8a8" stroke-width="1"/>
<text x="289.3" y="432.13" font-size="10" text-anchor="end" fill="#161616">80</text>
<line x1="293.6" y1="409.57" x2="295.8" y2="409.57" stroke="#a8a8a8" stroke-width="1"/>
<text x="289.3" y="412.87" font-size="10" text-anchor="end" fill="#161616">100</text>
<line x1="293.6" y1="390.3" x2="295.8" y2="390.3" stroke="#a8a8a8" stroke-width="1"/>
<text x="289.3" y="393.6" font-size="10" text-anchor="end" fill="#161616">120</text>
<line x1="329.8" y1="505.9" x2="329.8" y2="508.9" stroke="#a8a8a8" stroke-width="1"/>
<line x1="363.8" y1="505.9" x2="363.8" y2="508.9" stroke="#a8a8a8" stroke-width="1"/>
<line x1="397.8" y1="505.9" x2="397.8" y2="508.9" stroke="#a8a8a8" stroke-width="1"/>
<line x1="431.8" y1="505.9" x2="431.8" y2="508.9" stroke="#a8a8a8" stroke-width="1"/>
<line x1="465.8" y1="505.9" x2="465.8" y2="508.9" stroke="#a8a8a8" stroke-width="1"/>
<line x1="499.8" y1="505.9" x2="499.8" y2="508.9" stroke="#a8a8a8" stroke-width="1"/>
<text x="315.1" y="525.3" font-size="10" text-anchor="middle" fill="#161616">3U</text>
<text x="348.5" y="525.3" font-size="10" text-anchor="middle" fill="#161616">3T</text>
<text x="384" y="525.3" font-size="10" text-anchor="middle" fill="#161616">24T</text>
<text x="417.3" y="525.3" font-size="10" text-anchor="middle" fill="#161616">48T</text>
<text x="451.6" y="525.3" font-size="10" text-anchor="middle" fill="#161616">72T</text>
<text x="485.7" y="525.3" font-size="10" text-anchor="middle" fill="#161616">72U</text>
<text x="382.6" y="541.4" font-size="10.15" text-anchor="start" fill="#161616">Time (hours)</text>
<text x="271.5" y="456.5" font-size="10.1" text-anchor="middle" fill="#161616" transform="rotate(-90 271.5 456.5)">% responding cells</text>
<rect x="328" y="496.8" width="3" height="15.9" fill="#fff"/>
<line x1="328.5" y1="496.8" x2="328.5" y2="512.7" stroke="#1a1a1a" stroke-width="1.1"/>
<line x1="330.5" y1="496.8" x2="330.5" y2="512.7" stroke="#1a1a1a" stroke-width="1.1"/>
<rect x="465" y="498.8" width="3.2" height="17" fill="#8a8a8a"/>
<line x1="465.5" y1="498.8" x2="465.5" y2="515.8" stroke="#1a1a1a" stroke-width="1.1"/>
<line x1="467.7" y1="498.8" x2="467.7" y2="515.8" stroke="#1a1a1a" stroke-width="1.1"/>
<line x1="312.9" y1="490.1" x2="346.8" y2="505.42" stroke="#111" stroke-width="1.4" stroke-dasharray="3.6,2.2"/>
<line x1="346.8" y1="505.42" x2="381.3" y2="475.07" stroke="#111" stroke-width="1.2"/>
<line x1="381.3" y1="475.07" x2="414.7" y2="490.1" stroke="#111" stroke-width="1.2"/>
<line x1="414.7" y1="490.1" x2="449.2" y2="479.12" stroke="#111" stroke-width="1.2"/>
<line x1="313.5" y1="453.88" x2="346.8" y2="497.23" stroke="#111" stroke-width="1.4" stroke-dasharray="3.6,2.2"/>
<line x1="346.8" y1="497.23" x2="381.3" y2="467.37" stroke="#111" stroke-width="1.2"/>
<line x1="381.3" y1="467.37" x2="414.7" y2="462.55" stroke="#111" stroke-width="1.2"/>
<line x1="414.7" y1="462.55" x2="449.2" y2="444.25" stroke="#111" stroke-width="1.2"/>
<line x1="314.1" y1="446.17" x2="346.8" y2="490.49" stroke="#111" stroke-width="1.4" stroke-dasharray="3.6,2.2"/>
<line x1="346.8" y1="490.49" x2="381.3" y2="485.09" stroke="#111" stroke-width="1.2"/>
<line x1="381.3" y1="485.09" x2="414.7" y2="474.11" stroke="#111" stroke-width="1.2"/>
<line x1="414.7" y1="474.11" x2="449.2" y2="456.77" stroke="#111" stroke-width="1.2"/>
<line x1="314" y1="459.27" x2="346.8" y2="502.05" stroke="#111" stroke-width="1.4" stroke-dasharray="3.6,2.2"/>
<line x1="346.8" y1="502.05" x2="381.3" y2="453.88" stroke="#111" stroke-width="1.2"/>
<line x1="381.3" y1="453.88" x2="414.7" y2="463.51" stroke="#111" stroke-width="1.2"/>
<line x1="414.7" y1="463.51" x2="449.2" y2="450.99" stroke="#111" stroke-width="1.2"/>
<ellipse cx="483.4" cy="490.58" rx="5.35" ry="6.5" fill="#fff" stroke="#000" stroke-width="1.2"/>
<ellipse cx="483.4" cy="482.39" rx="3.35" ry="3.3" fill="#fff" stroke="#000" stroke-width="1.2"/>
<ellipse cx="314.1" cy="446.17" rx="5.2" ry="6.15" fill="#fff" stroke="#000" stroke-width="1.2"/>
<ellipse cx="483.4" cy="452.63" rx="5.35" ry="6.6" fill="#fff" stroke="#000" stroke-width="1.2"/>
<ellipse cx="314" cy="459.27" rx="5.35" ry="6.3" fill="#fff" stroke="#000" stroke-width="1.2"/>
<ellipse cx="483.4" cy="471.61" rx="5.35" ry="6.6" fill="#fff" stroke="#000" stroke-width="1.2"/>
<rect x="309.8" y="485.9" width="6.2" height="8.4" fill="#fff" stroke="#000" stroke-width="1.0"/>
<rect x="343.7" y="501.22" width="6.2" height="8.4" fill="#fff" stroke="#000" stroke-width="1.0"/>
<rect x="378.2" y="470.87" width="6.2" height="8.4" fill="#fff" stroke="#000" stroke-width="1.0"/>
<rect x="411.6" y="485.9" width="6.2" height="8.4" fill="#fff" stroke="#000" stroke-width="1.0"/>
<rect x="446.1" y="474.92" width="6.2" height="8.4" fill="#fff" stroke="#000" stroke-width="1.0"/>
<rect x="479.25" y="486.73" width="8.3" height="7.7" fill="#fff" stroke="#000" stroke-width="1.0"/>
<polygon points="313.5,450.98 315.9,453.88 313.5,456.78 311.1,453.88" fill="#000" stroke="#000" stroke-width="1.0"/>
<polygon points="346.8,494.33 349.2,497.23 346.8,500.13 344.4,497.23" fill="#000" stroke="#000" stroke-width="1.0"/>
<polygon points="381.3,464.47 383.7,467.37 381.3,470.27 378.9,467.37" fill="#000" stroke="#000" stroke-width="1.0"/>
<polygon points="414.7,459.65 417.1,462.55 414.7,465.45 412.3,462.55" fill="#000" stroke="#000" stroke-width="1.0"/>
<polygon points="449.2,441.35 451.6,444.25 449.2,447.15 446.8,444.25" fill="#000" stroke="#000" stroke-width="1.0"/>
<polygon points="483.4,480.09 485.4,482.39 483.4,484.69 481.4,482.39" fill="#000" stroke="#000" stroke-width="1.0"/>
<polygon points="314.1,441.57 317.2,450.77 311,450.77" fill="#000" stroke="#000" stroke-width="1.0"/>
<polygon points="346.8,485.89 349.9,495.09 343.7,495.09" fill="#000" stroke="#000" stroke-width="1.0"/>
<polygon points="381.3,480.49 384.4,489.69 378.2,489.69" fill="#000" stroke="#000" stroke-width="1.0"/>
<polygon points="414.7,469.51 417.8,478.71 411.6,478.71" fill="#000" stroke="#000" stroke-width="1.0"/>
<polygon points="449.2,452.17 452.3,461.37 446.1,461.37" fill="#000" stroke="#000" stroke-width="1.0"/>
<polygon points="483.4,447.78 486.65,457.48 480.15,457.48" fill="#000" stroke="#000" stroke-width="1.0"/>
<polygon points="314,454.57 317.2,459.27 314,463.97 310.8,459.27" fill="#000" stroke="#000" stroke-width="1.0"/>
<polygon points="346.8,497.35 350,502.05 346.8,506.75 343.6,502.05" fill="#000" stroke="#000" stroke-width="1.0"/>
<polygon points="381.3,449.18 384.5,453.88 381.3,458.58 378.1,453.88" fill="#000" stroke="#000" stroke-width="1.0"/>
<polygon points="414.7,458.81 417.9,463.51 414.7,468.21 411.5,463.51" fill="#000" stroke="#000" stroke-width="1.0"/>
<polygon points="449.2,446.29 452.4,450.99 449.2,455.69 446,450.99" fill="#000" stroke="#000" stroke-width="1.0"/>
<polygon points="483.4,466.76 486.4,471.61 483.4,476.46 480.4,471.61" fill="#000" stroke="#000" stroke-width="1.0"/>
<line x1="36" y1="564.6" x2="36" y2="695" stroke="#a8a8a8" stroke-width="1.1"/>
<line x1="33.8" y1="692" x2="245.5" y2="692" stroke="#a8a8a8" stroke-width="1.0"/>
<text x="31.2" y="697" font-size="10" text-anchor="end" fill="#161616">0</text>
<line x1="33.8" y1="666.52" x2="36" y2="666.52" stroke="#a8a8a8" stroke-width="1"/>
<text x="31.2" y="671.52" font-size="10" text-anchor="end" fill="#161616">10</text>
<line x1="33.8" y1="641.04" x2="36" y2="641.04" stroke="#a8a8a8" stroke-width="1"/>
<text x="31.2" y="646.04" font-size="10" text-anchor="end" fill="#161616">20</text>
<line x1="33.8" y1="615.56" x2="36" y2="615.56" stroke="#a8a8a8" stroke-width="1"/>
<text x="31.2" y="620.56" font-size="10" text-anchor="end" fill="#161616">30</text>
<line x1="33.8" y1="590.08" x2="36" y2="590.08" stroke="#a8a8a8" stroke-width="1"/>
<text x="31.2" y="595.08" font-size="10" text-anchor="end" fill="#161616">40</text>
<line x1="33.8" y1="564.6" x2="36" y2="564.6" stroke="#a8a8a8" stroke-width="1"/>
<text x="31.2" y="569.6" font-size="10" text-anchor="end" fill="#161616">50</text>
<line x1="70.83" y1="692" x2="70.83" y2="695" stroke="#a8a8a8" stroke-width="1"/>
<line x1="105.77" y1="692" x2="105.77" y2="695" stroke="#a8a8a8" stroke-width="1"/>
<line x1="140.7" y1="692" x2="140.7" y2="695" stroke="#a8a8a8" stroke-width="1"/>
<line x1="175.63" y1="692" x2="175.63" y2="695" stroke="#a8a8a8" stroke-width="1"/>
<line x1="210.57" y1="692" x2="210.57" y2="695" stroke="#a8a8a8" stroke-width="1"/>
<line x1="245.5" y1="692" x2="245.5" y2="695" stroke="#a8a8a8" stroke-width="1"/>
<text x="55.1" y="707.6" font-size="10" text-anchor="middle" fill="#161616">3U</text>
<text x="89.9" y="707.6" font-size="10" text-anchor="middle" fill="#161616">3T</text>
<text x="125.1" y="707.6" font-size="10" text-anchor="middle" fill="#161616">24T</text>
<text x="160.8" y="707.6" font-size="10" text-anchor="middle" fill="#161616">48T</text>
<text x="196.2" y="707.6" font-size="10" text-anchor="middle" fill="#161616">72T</text>
<text x="231.6" y="707.6" font-size="10" text-anchor="middle" fill="#161616">72U</text>
<text x="120.2" y="721.8" font-size="10.15" text-anchor="start" fill="#161616">Time (hours)</text>
<text x="16.7" y="623.9" font-size="10.1" text-anchor="middle" fill="#161616" transform="rotate(-90 16.7 623.9)">sIgD MFI</text>
<rect x="68" y="684.1" width="3.5" height="16" fill="#fff"/>
<line x1="68.5" y1="684.1" x2="68.5" y2="700.1" stroke="#1a1a1a" stroke-width="1.1"/>
<line x1="71" y1="684.1" x2="71" y2="700.1" stroke="#1a1a1a" stroke-width="1.1"/>
<rect x="211" y="685.2" width="3" height="15.9" fill="#fff"/>
<line x1="211.5" y1="685.2" x2="211.5" y2="701.1" stroke="#1a1a1a" stroke-width="1.1"/>
<line x1="213.5" y1="685.2" x2="213.5" y2="701.1" stroke="#1a1a1a" stroke-width="1.1"/>
<line x1="53.1" y1="620.66" x2="88.5" y2="674.42" stroke="#111" stroke-width="1.4" stroke-dasharray="3.6,2.2"/>
<line x1="88.5" y1="674.42" x2="123" y2="653.78" stroke="#111" stroke-width="1.2"/>
<line x1="123" y1="653.78" x2="158" y2="628.81" stroke="#111" stroke-width="1.2"/>
<line x1="158" y1="628.81" x2="193.5" y2="590.33" stroke="#111" stroke-width="1.2"/>
<line x1="53.1" y1="584.98" x2="88.5" y2="672.38" stroke="#111" stroke-width="1.4" stroke-dasharray="3.6,2.2"/>
<line x1="88.5" y1="672.38" x2="123" y2="610.46" stroke="#111" stroke-width="1.2"/>
<line x1="123" y1="610.46" x2="158" y2="595.43" stroke="#111" stroke-width="1.2"/>
<line x1="158" y1="595.43" x2="193.5" y2="589.57" stroke="#111" stroke-width="1.2"/>
<ellipse cx="228.7" cy="589.57" rx="5.7" ry="6.4" fill="#fff" stroke="#000" stroke-width="1.2"/>
<ellipse cx="228.9" cy="572.5" rx="5.7" ry="6.4" fill="#fff" stroke="#000" stroke-width="1.2"/>
<rect x="50.05" y="617.76" width="6.1" height="5.8" fill="#000" stroke="#000" stroke-width="1.0"/>
<rect x="85.45" y="671.52" width="6.1" height="5.8" fill="#000" stroke="#000" stroke-width="1.0"/>
<rect x="119.95" y="650.88" width="6.1" height="5.8" fill="#000" stroke="#000" stroke-width="1.0"/>
<rect x="154.95" y="625.91" width="6.1" height="5.8" fill="#000" stroke="#000" stroke-width="1.0"/>
<rect x="190.45" y="587.43" width="6.1" height="5.8" fill="#000" stroke="#000" stroke-width="1.0"/>
<rect x="225.8" y="586.87" width="5.8" height="5.4" fill="#000" stroke="#000" stroke-width="1.0"/>
<polygon points="53.1,582.03 56.25,587.93 49.95,587.93" fill="#fff" stroke="#000" stroke-width="1.0"/>
<polygon points="88.5,669.43 91.65,675.33 85.35,675.33" fill="#fff" stroke="#000" stroke-width="1.0"/>
<polygon points="123,607.51 126.15,613.41 119.85,613.41" fill="#fff" stroke="#000" stroke-width="1.0"/>
<polygon points="158,592.48 161.15,598.38 154.85,598.38" fill="#fff" stroke="#000" stroke-width="1.0"/>
<polygon points="193.5,586.62 196.65,592.52 190.35,592.52" fill="#fff" stroke="#000" stroke-width="1.0"/>
<polygon points="228.9,569.4 231.9,575.6 225.9,575.6" fill="#fff" stroke="#000" stroke-width="1.0"/>
<line x1="294.7" y1="568.7" x2="294.7" y2="695.3" stroke="#a8a8a8" stroke-width="1.1"/>
<line x1="292.5" y1="692.3" x2="491" y2="692.3" stroke="#a8a8a8" stroke-width="1.0"/>
<text x="288.9" y="697.3" font-size="10" text-anchor="end" fill="#161616">0</text>
<line x1="292.5" y1="667.58" x2="294.7" y2="667.58" stroke="#a8a8a8" stroke-width="1"/>
<text x="288.9" y="672.58" font-size="10" text-anchor="end" fill="#161616">10</text>
<line x1="292.5" y1="642.86" x2="294.7" y2="642.86" stroke="#a8a8a8" stroke-width="1"/>
<text x="288.9" y="647.86" font-size="10" text-anchor="end" fill="#161616">20</text>
<line x1="292.5" y1="618.14" x2="294.7" y2="618.14" stroke="#a8a8a8" stroke-width="1"/>
<text x="288.9" y="623.14" font-size="10" text-anchor="end" fill="#161616">30</text>
<line x1="292.5" y1="593.42" x2="294.7" y2="593.42" stroke="#a8a8a8" stroke-width="1"/>
<text x="288.9" y="598.42" font-size="10" text-anchor="end" fill="#161616">40</text>
<line x1="292.5" y1="568.7" x2="294.7" y2="568.7" stroke="#a8a8a8" stroke-width="1"/>
<text x="288.9" y="573.7" font-size="10" text-anchor="end" fill="#161616">50</text>
<line x1="327.38" y1="692.3" x2="327.38" y2="695.3" stroke="#a8a8a8" stroke-width="1"/>
<line x1="360.1" y1="692.3" x2="360.1" y2="695.3" stroke="#a8a8a8" stroke-width="1"/>
<line x1="392.82" y1="692.3" x2="392.82" y2="695.3" stroke="#a8a8a8" stroke-width="1"/>
<line x1="425.55" y1="692.3" x2="425.55" y2="695.3" stroke="#a8a8a8" stroke-width="1"/>
<line x1="458.27" y1="692.3" x2="458.27" y2="695.3" stroke="#a8a8a8" stroke-width="1"/>
<line x1="491" y1="692.3" x2="491" y2="695.3" stroke="#a8a8a8" stroke-width="1"/>
<text x="312.1" y="708" font-size="10" text-anchor="middle" fill="#161616">3U</text>
<text x="344.5" y="708" font-size="10" text-anchor="middle" fill="#161616">3T</text>
<text x="377.4" y="708" font-size="10" text-anchor="middle" fill="#161616">24T</text>
<text x="410.6" y="708" font-size="10" text-anchor="middle" fill="#161616">48T</text>
<text x="443.8" y="708" font-size="10" text-anchor="middle" fill="#161616">72T</text>
<text x="476.8" y="708" font-size="10" text-anchor="middle" fill="#161616">72U</text>
<text x="382.5" y="722.2" font-size="10.15" text-anchor="start" fill="#161616">Time (hours)</text>
<text x="270.7" y="626.3" font-size="10.1" text-anchor="middle" fill="#161616" transform="rotate(-90 270.7 626.3)">sIgD MFI</text>
<rect x="325" y="686.6" width="3" height="16" fill="#fff"/>
<line x1="325.5" y1="686.6" x2="325.5" y2="702.6" stroke="#1a1a1a" stroke-width="1.1"/>
<line x1="327.5" y1="686.6" x2="327.5" y2="702.6" stroke="#1a1a1a" stroke-width="1.1"/>
<rect x="458" y="685.4" width="3" height="16.1" fill="#fff"/>
<line x1="458.5" y1="685.4" x2="458.5" y2="701.5" stroke="#1a1a1a" stroke-width="1.1"/>
<line x1="460.5" y1="685.4" x2="460.5" y2="701.5" stroke="#1a1a1a" stroke-width="1.1"/>
<line x1="311" y1="649.78" x2="343.6" y2="672.52" stroke="#111" stroke-width="1.4" stroke-dasharray="3.6,2.2"/>
<line x1="343.6" y1="672.52" x2="376.9" y2="659.18" stroke="#111" stroke-width="1.2"/>
<line x1="376.9" y1="659.18" x2="409.5" y2="656.7" stroke="#111" stroke-width="1.2"/>
<line x1="409.5" y1="656.7" x2="442.6" y2="656.7" stroke="#111" stroke-width="1.2"/>
<line x1="311" y1="667.09" x2="343.6" y2="679.69" stroke="#111" stroke-width="1.4" stroke-dasharray="3.6,2.2"/>
<line x1="343.6" y1="679.69" x2="376.9" y2="662.39" stroke="#111" stroke-width="1.2"/>
<line x1="376.9" y1="662.39" x2="409.5" y2="659.92" stroke="#111" stroke-width="1.2"/>
<line x1="409.5" y1="659.92" x2="442.6" y2="659.92" stroke="#111" stroke-width="1.2"/>
<line x1="311" y1="585.02" x2="343.6" y2="671.29" stroke="#111" stroke-width="1.4" stroke-dasharray="3.6,2.2"/>
<line x1="343.6" y1="671.29" x2="376.9" y2="649.53" stroke="#111" stroke-width="1.2"/>
<line x1="376.9" y1="649.53" x2="409.5" y2="657.69" stroke="#111" stroke-width="1.2"/>
<line x1="409.5" y1="657.69" x2="442.6" y2="628.28" stroke="#111" stroke-width="1.2"/>
<line x1="311" y1="577.6" x2="343.6" y2="671.29" stroke="#111" stroke-width="1.4" stroke-dasharray="3.6,2.2"/>
<line x1="343.6" y1="671.29" x2="376.9" y2="649.53" stroke="#111" stroke-width="1.2"/>
<line x1="376.9" y1="649.53" x2="409.5" y2="644.84" stroke="#111" stroke-width="1.2"/>
<line x1="409.5" y1="644.84" x2="442.6" y2="620.36" stroke="#111" stroke-width="1.2"/>
<ellipse cx="475.6" cy="653.03" rx="6.55" ry="9.3" fill="#fff" stroke="#000" stroke-width="1.2"/>
<ellipse cx="475.6" cy="617.54" rx="6.55" ry="6.55" fill="#fff" stroke="#000" stroke-width="1.2"/>
<ellipse cx="475.6" cy="599.85" rx="3.9" ry="3.9" fill="#fff" stroke="#000" stroke-width="1.2"/>
<polygon points="311,647.03 315,649.78 311,652.53 307,649.78" fill="#000" stroke="#000" stroke-width="1.0"/>
<polygon points="343.6,669.92 346.6,672.52 343.6,675.12 340.6,672.52" fill="#000" stroke="#000" stroke-width="1.0"/>
<polygon points="376.9,656.58 379.9,659.18 376.9,661.78 373.9,659.18" fill="#000" stroke="#000" stroke-width="1.0"/>
<polygon points="409.5,654.1 412.5,656.7 409.5,659.3 406.5,656.7" fill="#000" stroke="#000" stroke-width="1.0"/>
<polygon points="442.6,654.1 445.6,656.7 442.6,659.3 439.6,656.7" fill="#000" stroke="#000" stroke-width="1.0"/>
<polygon points="475.6,646.03 479.35,649.53 475.6,653.03 471.85,649.53" fill="#000" stroke="#000" stroke-width="1.0"/>
<rect x="307" y="663.89" width="8" height="6.4" fill="#fff" stroke="#000" stroke-width="1.0"/>
<rect x="340.2" y="676.89" width="6.8" height="5.6" fill="#fff" stroke="#000" stroke-width="1.0"/>
<rect x="373.5" y="659.59" width="6.8" height="5.6" fill="#fff" stroke="#000" stroke-width="1.0"/>
<rect x="406.1" y="657.12" width="6.8" height="5.6" fill="#fff" stroke="#000" stroke-width="1.0"/>
<rect x="439.2" y="657.12" width="6.8" height="5.6" fill="#fff" stroke="#000" stroke-width="1.0"/>
<rect x="471.8" y="653.85" width="6.2" height="6.2" fill="#fff" stroke="#000" stroke-width="1.0"/>
<polygon points="311,581.77 314.8,588.27 307.2,588.27" fill="#000" stroke="#000" stroke-width="1.0"/>
<polygon points="343.6,668.04 347.4,674.54 339.8,674.54" fill="#000" stroke="#000" stroke-width="1.0"/>
<polygon points="376.9,646.28 380.7,652.78 373.1,652.78" fill="#000" stroke="#000" stroke-width="1.0"/>
<polygon points="442.6,625.03 446.4,631.53 438.8,631.53" fill="#000" stroke="#000" stroke-width="1.0"/>
<polygon points="475.6,615.04 479.5,621.24 471.7,621.24" fill="#000" stroke="#000" stroke-width="1.0"/>
<polygon points="343.6,669.69 346,672.89 341.2,672.89" fill="#000" stroke="#000" stroke-width="1.0"/>
<polygon points="376.9,647.93 379.3,651.13 374.5,651.13" fill="#000" stroke="#000" stroke-width="1.0"/>
<polygon points="409.5,643.24 411.9,646.44 407.1,646.44" fill="#000" stroke="#000" stroke-width="1.0"/>
<polygon points="442.6,618.76 445,621.96 440.2,621.96" fill="#000" stroke="#000" stroke-width="1.0"/>
<polygon points="311,575.7 313.6,577.6 311,579.5 308.4,577.6" fill="#000" stroke="#000" stroke-width="1.0"/>
<polygon points="475.6,598.25 477.9,599.85 475.6,601.45 473.3,599.85" fill="#000" stroke="#000" stroke-width="1.0"/>
<text x="0" y="0" font-size="25" font-weight="bold" fill="#000" transform="translate(1.1 20.1) scale(1.1 1)">A</text>
<text x="261.8" y="19.9" font-size="25" text-anchor="start" font-weight="bold" fill="#000">B</text>
<text x="0.4" y="206.2" font-size="25" text-anchor="start" font-weight="bold" fill="#000">C</text>
<text x="261.8" y="206.1" font-size="25" text-anchor="start" font-weight="bold" fill="#000">D</text>
<text x="0.9" y="380.8" font-size="25" text-anchor="start" font-weight="bold" fill="#000">E</text>
<text x="0" y="0" font-size="25" font-weight="bold" fill="#000" transform="translate(263.0 378.7) scale(0.93 1)">F</text>
<text x="0.4" y="561.6" font-size="25" text-anchor="start" font-weight="bold" fill="#000">G</text>
<text x="261.8" y="561.9" font-size="25" text-anchor="start" font-weight="bold" fill="#000">H</text>
<text x="84" y="12.8" font-size="13" fill="#161616" style="stroke-width:0.08px" textLength="131" lengthAdjust="spacing">sIgM Ca<tspan font-size="8.4" dy="-3.6">2+</tspan><tspan dy="3.6"> responders</tspan></text>
<text x="313.2" y="13" font-size="13" fill="#161616" style="stroke-width:0.08px" textLength="154.5" lengthAdjust="spacing">sIgM Ca<tspan font-size="8.4" dy="-3.6">2+</tspan><tspan dy="3.6"> nonresponders</tspan></text>
</svg>
</body></html>
